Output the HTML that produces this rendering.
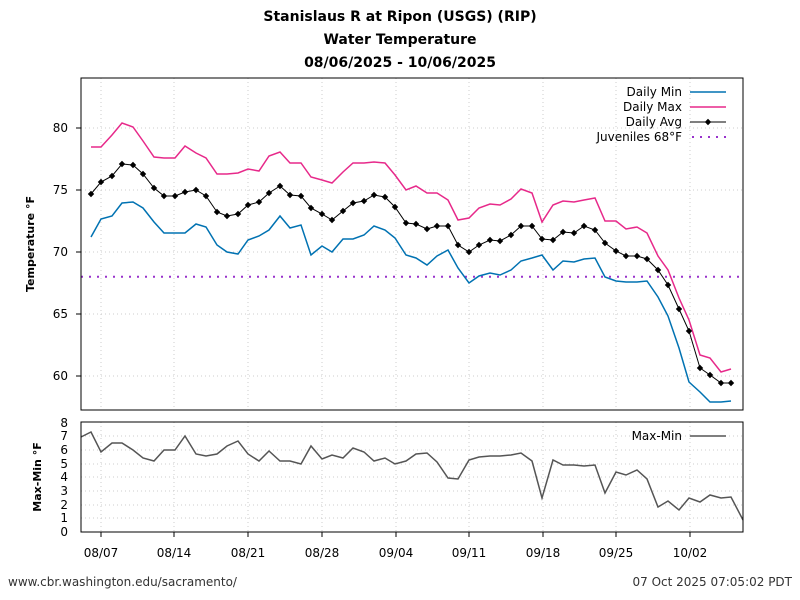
<!DOCTYPE html>
<html><head><meta charset="utf-8"><style>body{margin:0;background:#fff}svg{display:block;font-family:"DejaVu Sans","Liberation Sans",sans-serif}</style></head><body>
<svg width="800" height="600" viewBox="0 0 800 600" xmlns="http://www.w3.org/2000/svg">
<defs>
<marker id="dm" markerUnits="userSpaceOnUse" markerWidth="8" markerHeight="8" refX="4" refY="4" orient="0" overflow="visible">
<path d="M4,0.8 L7.2,4 L4,7.2 L0.8,4 Z" fill="#000"/>
</marker>
</defs>
<rect width="800" height="600" fill="#fff"/>
<g font-weight="bold" font-size="14" text-anchor="middle" fill="#000">
<text x="400" y="21">Stanislaus R at Ripon (USGS) (RIP)</text>
<text x="400" y="44">Water Temperature</text>
<text x="400" y="67">08/06/2025 - 10/06/2025</text>
</g>
<g stroke="#ccc" stroke-dasharray="1,3" stroke-width="1">
<line x1="81" x2="743" y1="128" y2="128"/><line x1="81" x2="743" y1="190" y2="190"/><line x1="81" x2="743" y1="252" y2="252"/><line x1="81" x2="743" y1="314" y2="314"/><line x1="81" x2="743" y1="376" y2="376"/>
<line x1="101" x2="101" y1="78" y2="410"/><line x1="174" x2="174" y1="78" y2="410"/><line x1="248" x2="248" y1="78" y2="410"/><line x1="322" x2="322" y1="78" y2="410"/><line x1="396" x2="396" y1="78" y2="410"/><line x1="469" x2="469" y1="78" y2="410"/><line x1="543" x2="543" y1="78" y2="410"/><line x1="616" x2="616" y1="78" y2="410"/><line x1="690" x2="690" y1="78" y2="410"/>
<line x1="101" x2="101" y1="422" y2="532"/><line x1="174" x2="174" y1="422" y2="532"/><line x1="248" x2="248" y1="422" y2="532"/><line x1="322" x2="322" y1="422" y2="532"/><line x1="396" x2="396" y1="422" y2="532"/><line x1="469" x2="469" y1="422" y2="532"/><line x1="543" x2="543" y1="422" y2="532"/><line x1="616" x2="616" y1="422" y2="532"/><line x1="690" x2="690" y1="422" y2="532"/>
<line x1="81" x2="743" y1="436" y2="436"/><line x1="81" x2="743" y1="450" y2="450"/><line x1="81" x2="743" y1="464" y2="464"/><line x1="81" x2="743" y1="477" y2="477"/><line x1="81" x2="743" y1="491" y2="491"/><line x1="81" x2="743" y1="505" y2="505"/><line x1="81" x2="743" y1="518" y2="518"/>
</g>
<line x1="81" x2="743" y1="276.8" y2="276.8" stroke="#9932cc" stroke-width="2" stroke-dasharray="2,6"/>
<polyline fill="none" stroke="#0072b2" stroke-width="1.5" points="91,237 101,219 112,216 122,203 133,202 143,208 154,222 164,233 175,233 185,233 196,224 206,227 217,245 227,252 238,254 248,240 259,236 269,230 280,216 290,228 301,225 311,255 322,246 332,252 343,239 353,239 364,235 374,226 385,230 395,238 406,255 416,258 427,265 437,256 448,250 458,268 469,283 479,276 490,273 500,275 511,270 521,261 532,258 542,255 553,270 563,261 574,262 584,259 595,258 605,277 616,281 626,282 637,282 647,281 658,297 668,316 679,348 689,382 700,392 710,402 721,402 731,401"/>
<polyline fill="none" stroke="#e7298a" stroke-width="1.5" points="91,147 101,147 112,135 122,123 133,127 143,141 154,157 164,158 175,158 185,146 196,153 206,158 217,174 227,174 238,173 248,169 259,171 269,156 280,152 290,163 301,163 311,177 322,180 332,183 343,172 353,163 364,163 374,162 385,163 395,175 406,190 416,186 427,193 437,193 448,200 458,220 469,218 479,208 490,204 500,205 511,199 521,189 532,193 542,222 553,205 563,201 574,202 584,200 595,198 605,221 616,221 626,229 637,227 647,233 658,256 668,270 679,298 689,320 700,355 710,358 721,372 731,369"/>
<polyline fill="none" stroke="#000" stroke-width="1" marker-start="url(#dm)" marker-mid="url(#dm)" marker-end="url(#dm)" points="91,194 101,182 112,176 122,164 133,165 143,174 154,188 164,196 175,196 185,192 196,190 206,196 217,212 227,216 238,214 248,205 259,202 269,193 280,186 290,195 301,196 311,208 322,214 332,220 343,211 353,203 364,201 374,195 385,197 395,207 406,223 416,224 427,229 437,226 448,226 458,245 469,252 479,245 490,240 500,241 511,235 521,226 532,226 542,239 553,240 563,232 574,233 584,226 595,230 605,243 616,251 626,256 637,256 647,259 658,270 668,285 679,309 689,331 700,368 710,375 721,383 731,383"/>
<polyline fill="none" stroke="#555" stroke-width="1.5" points="81,437 91,432 101,452 112,443 122,443 133,450 143,458 154,461 164,450 175,450 185,436 196,454 206,456 217,454 227,446 238,441 248,454 259,461 269,451 280,461 290,461 301,464 311,446 322,459 332,455 343,458 353,448 364,452 374,461 385,458 395,464 406,461 416,454 427,453 437,462 448,478 458,479 469,460 479,457 490,456 500,456 511,455 521,453 532,461 542,498 553,460 563,465 574,465 584,466 595,465 605,493 616,472 626,475 637,470 647,479 658,507 668,501 679,510 689,498 700,502 710,495 721,498 731,497 743,520"/>
<rect x="81" y="78" width="662" height="332" fill="none" stroke="#000" stroke-width="1"/>
<rect x="81" y="422" width="662" height="110" fill="none" stroke="#000" stroke-width="1"/>
<g font-size="12" fill="#000" text-anchor="end">
<text x="68" y="132">80</text><text x="68" y="194">75</text><text x="68" y="256">70</text><text x="68" y="318">65</text><text x="68" y="380">60</text>
<text x="68" y="427">8</text><text x="68" y="440">7</text><text x="68" y="454">6</text><text x="68" y="468">5</text><text x="68" y="481">4</text><text x="68" y="495">3</text><text x="68" y="509">2</text><text x="68" y="522">1</text><text x="68" y="536">0</text>
</g>
<g stroke="#000"><line x1="76" x2="81" y1="128" y2="128"/><line x1="76" x2="81" y1="190" y2="190"/><line x1="76" x2="81" y1="252" y2="252"/><line x1="76" x2="81" y1="314" y2="314"/><line x1="76" x2="81" y1="376" y2="376"/>
<line x1="101" x2="101" y1="532" y2="537"/><line x1="174" x2="174" y1="532" y2="537"/><line x1="248" x2="248" y1="532" y2="537"/><line x1="322" x2="322" y1="532" y2="537"/><line x1="396" x2="396" y1="532" y2="537"/><line x1="469" x2="469" y1="532" y2="537"/><line x1="543" x2="543" y1="532" y2="537"/><line x1="616" x2="616" y1="532" y2="537"/><line x1="690" x2="690" y1="532" y2="537"/></g>
<g font-size="12" text-anchor="middle" fill="#000">
<text x="101" y="557">08/07</text><text x="174" y="557">08/14</text><text x="248" y="557">08/21</text><text x="322" y="557">08/28</text><text x="396" y="557">09/04</text><text x="469" y="557">09/11</text><text x="543" y="557">09/18</text><text x="616" y="557">09/25</text><text x="690" y="557">10/02</text>
</g>
<text transform="translate(34,244) rotate(-90)" font-size="11" font-weight="bold" text-anchor="middle">Temperature °F</text>
<text transform="translate(41,477) rotate(-90)" font-size="11" font-weight="bold" text-anchor="middle">Max-Min °F</text>
<g font-size="12" text-anchor="end" fill="#000">
<text x="682" y="96">Daily Min</text><text x="682" y="111">Daily Max</text><text x="682" y="126">Daily Avg</text><text x="682" y="141">Juveniles 68°F</text>
<text x="682" y="440">Max-Min</text>
</g>
<line x1="690" x2="726" y1="92" y2="92" stroke="#0072b2" stroke-width="1.5"/>
<line x1="690" x2="726" y1="107" y2="107" stroke="#e7298a" stroke-width="1.5"/>
<line x1="690" x2="726" y1="122" y2="122" stroke="#000"/><path d="M708,118.8 L711.2,122 L708,125.2 L704.8,122 Z" fill="#000"/>
<line x1="692" x2="726" y1="137" y2="137" stroke="#9932cc" stroke-width="2" stroke-dasharray="2,6"/>
<line x1="690" x2="726" y1="436" y2="436" stroke="#555" stroke-width="1.5"/>
<text x="8" y="586" font-size="12" fill="#333">www.cbr.washington.edu/sacramento/</text>
<text x="792" y="586" font-size="12" fill="#333" text-anchor="end">07 Oct 2025 07:05:02 PDT</text>
</svg>
</body></html>
